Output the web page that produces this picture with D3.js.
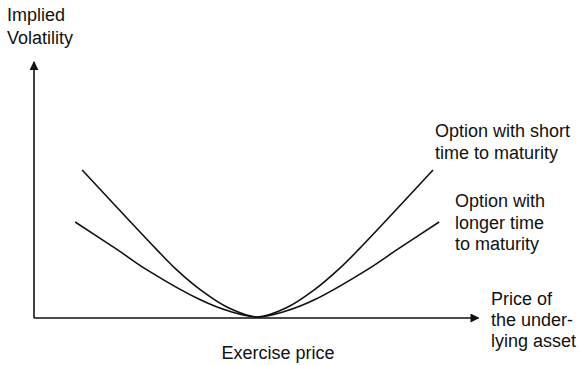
<!DOCTYPE html>
<html>
<head>
<meta charset="utf-8">
<script src="https://cdn.jsdelivr.net/npm/d3@7"></script>
<style>
  html, body { margin: 0; padding: 0; background: #fff; }
  svg text { font-family: "Liberation Sans", Arial, Helvetica, sans-serif; fill: #111; }
</style>
</head>
<body>
<svg id="chart" width="581" height="365"></svg>
<script>
// Exercise price (relative units, at-the-money = 51) and implied volatility per maturity
const shortStrike = [11, 27.9, 32.4, 38.1, 44.5, 51, 57.5, 63.9, 69.6, 74.2, 91.1];
const shortVol    = [57.8, 26.9, 19.1, 10.9, 3.9, 0.4, 3.9, 10.9, 19.1, 26.9, 57.8];
const longStrike  = [9.4, 19.1, 25.8, 38.1, 44.5, 51, 57.5, 63.9, 76.0, 82.8, 92.5];
const longVol     = [37.5, 26.6, 18.8, 7.0, 2.7, 0.4, 2.7, 7.0, 18.8, 26.6, 37.5];

const yAxisTitle = ["Implied", "Volatility"];
const xAxisTitle = ["Price of", "the under-", "lying asset"];
const xAxisCaption = "Exercise price";
const shortLabel = ["Option with short", "time to maturity"];
const longLabel = ["Option with", "longer time", "to maturity"];

const svg = d3.select("#chart");
const x = d3.scaleLinear().domain([0, 100]).range([34, 472]);
const y = d3.scaleLinear().domain([0, 100]).range([318, 62]);

// Axes with arrowheads
const defs = svg.append("defs");
defs.append("marker")
  .attr("id", "arrow")
  .attr("viewBox", "0 0 10 10")
  .attr("refX", 9).attr("refY", 5)
  .attr("markerWidth", 9).attr("markerHeight", 9)
  .attr("markerUnits", "userSpaceOnUse")
  .attr("orient", "auto")
  .append("path")
  .attr("d", "M0,0 L10,5 L0,10 Z")
  .attr("fill", "#111");

svg.append("line")
  .attr("x1", x(0)).attr("y1", y(0))
  .attr("x2", x(0)).attr("y2", y(100))
  .attr("stroke", "#111").attr("stroke-width", 1.6)
  .attr("marker-end", "url(#arrow)");

svg.append("line")
  .attr("x1", x(0)).attr("y1", y(0))
  .attr("x2", x(101.5)).attr("y2", y(0))
  .attr("stroke", "#111").attr("stroke-width", 1.6)
  .attr("marker-end", "url(#arrow)");

// Smile curves
const line = d3.line()
  .x(d => x(d[0]))
  .y(d => y(d[1]))
  .curve(d3.curveCatmullRom.alpha(0.5));

const series = [
  { strike: shortStrike, vol: shortVol },
  { strike: longStrike, vol: longVol }
];

svg.selectAll("path.curve")
  .data(series)
  .join("path")
  .attr("class", "curve")
  .attr("fill", "none")
  .attr("stroke", "#111")
  .attr("stroke-width", 1.6)
  .attr("d", s => line(s.strike.map((k, i) => [k, s.vol[i]])));

// Text labels
function block(lines, xPos, yStart, lh, anchor) {
  svg.append("text")
    .attr("x", xPos).attr("y", yStart)
    .attr("text-anchor", anchor || "start")
    .attr("font-size", 18)
    .selectAll("tspan")
    .data(lines)
    .join("tspan")
    .attr("x", xPos)
    .attr("dy", (d, i) => i === 0 ? 0 : lh)
    .text(d => d);
}

block(yAxisTitle, 7, 21, 23);
block(shortLabel, 435, 137, 22);
block(longLabel, 455, 207, 21.5);
block(xAxisTitle, 491, 305, 21);
block([xAxisCaption], 278, 359, 0, "middle");
</script>
</body>
</html>
